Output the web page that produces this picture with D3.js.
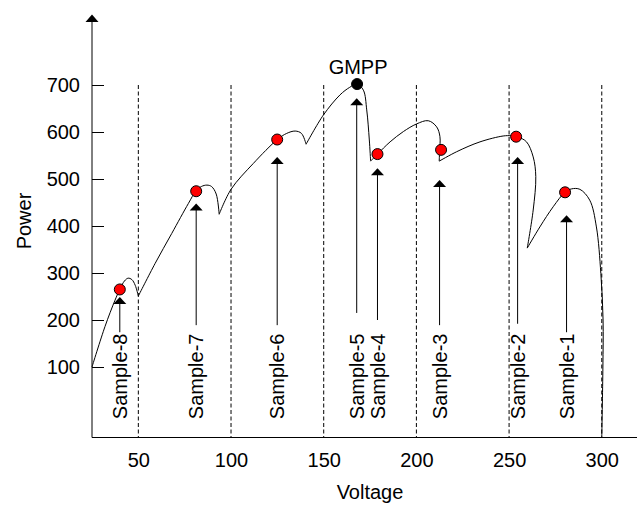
<!DOCTYPE html>
<html>
<head>
<meta charset="utf-8">
<script src="https://cdn.jsdelivr.net/npm/d3@7"></script>
<style>
  body { margin: 0; background: #fff; }
  text { font-family: Arial, "Liberation Sans", sans-serif; }
</style>
</head>
<body>
<div id="chart"></div>
<script>
// P-V curve, split at the cusps so each piece is smooth
const pvSegments = [
  [[25,100],[32,186],[37.4,242],[40,265],[42.5,283],[44.5,289],[46.5,286],[48.3,274],[50,251]],
  [[50,251],[59,320],[68,384],[77,448],[81,474],[84,484],[87,487],[89.5,484],[92,468],[93.6,425]],
  [[93.6,425],[100,478],[112,533],[125,584],[130,597],[134.6,602],[138,597],[140.5,574]],
  [[140.5,574],[149.8,636],[158.8,679],[164,695],[168,702],[171.4,689],[173.2,647],[174.6,583],[175.3,538]],
  [[175.3,538],[179,553],[185.8,579],[193,601],[200,617],[206.4,624],[210.9,611],[212.7,590],[212.5,560],[212.3,538]],
  [[212.3,538],[221.7,558],[234.3,579],[246.8,591.5],[251,592],[255,589],[259.4,579],[263,547],[264.4,505],[263,434],[259.8,353]],
  [[259.8,353],[266.6,398],[273.8,441],[280.2,472],[283.7,479],[288.2,478],[293.5,455],[297.1,398],[299.5,299],[300.7,200],[300.6,100],[300,-48]]
];

const sampleNames = ["Sample-1","Sample-2","Sample-3","Sample-4","Sample-5","Sample-6","Sample-7","Sample-8"];
const arrowV      = [281, 254.6, 212.5, 179, 167.8, 124.9, 81.2, 40];
const arrowTipP   = [423, 547, 498, 523, 672, 547, 448, 249];
const arrowBaseP  = [174, 192, 189, 200, 215, 189, 189, 174];
const dotV        = [280.2, 253.8, 213.3, 179, 168, 124.9, 81.2, 40];
const dotP        = [471.7, 590, 562, 553, 702, 584, 474, 265];
const gmppIndex   = 4;

const xTicks = [50, 100, 150, 200, 250, 300];
const yTicks = [100, 200, 300, 400, 500, 600, 700];
const dashedV = [50, 100, 150, 200, 250, 300];

const width = 637;
const height = 505;

const xScale = d3.scaleLinear().domain([25, 319]).range([92, 637]);
const yScale = d3.scaleLinear().domain([-50, 850]).range([437.5, 14.5]);

var svg = d3.select("#chart").append("svg")
  .attr("width", width)
  .attr("height", height);

// dashed partition lines
svg.append("g")
  .selectAll("line")
  .data(dashedV)
  .enter()
  .append("line")
    .attr("x1", d => xScale(d)).attr("x2", d => xScale(d))
    .attr("y1", yScale(700)).attr("y2", yScale(-50))
    .attr("stroke", "black")
    .attr("stroke-dasharray", "4,2.5");

// axes
svg.append("g")
  .attr("transform", `translate(0,${yScale(-50)})`)
  .call(d3.axisBottom(xScale).tickValues(xTicks).tickSize(0).tickPadding(15))
  .call(g => g.select(".domain").remove())
  .call(g => g.selectAll("text").attr("font-size", 20).attr("font-family", null).attr("fill", "black"));

svg.append("line")
  .attr("x1", xScale(25)).attr("x2", width)
  .attr("y1", yScale(-50)).attr("y2", yScale(-50))
  .attr("stroke", "black");

svg.append("g")
  .attr("transform", `translate(${xScale(25)},0)`)
  .call(d3.axisLeft(yScale).tickValues(yTicks).tickSizeInner(-12).tickSizeOuter(0).tickPadding(12))
  .call(g => g.select(".domain").remove())
  .call(g => g.selectAll("line").attr("stroke", "black"))
  .call(g => g.selectAll("text").attr("font-size", 20).attr("font-family", null).attr("fill", "black"));

svg.append("line")
  .attr("x1", xScale(25)).attr("x2", xScale(25))
  .attr("y1", yScale(-50)).attr("y2", yScale(835))
  .attr("stroke", "black");

svg.append("path")
  .attr("d", `M${xScale(25)},${yScale(850)} l6.5,7.5 l-13,0 Z`)
  .attr("fill", "black");

// axis titles
svg.append("text")
  .attr("x", 370).attr("y", 499)
  .attr("text-anchor", "middle")
  .attr("font-size", 20)
  .text("Voltage");

svg.append("text")
  .attr("transform", "translate(31,221) rotate(-90)")
  .attr("text-anchor", "middle")
  .attr("font-size", 20)
  .text("Power");

// the curve
var curveFunc = d3.line()
  .curve(d3.curveCatmullRom.alpha(0.5))
  .x(d => xScale(d[0]))
  .y(d => yScale(d[1]));

svg.append("g")
  .selectAll("path")
  .data(pvSegments)
  .enter()
  .append("path")
    .attr("d", d => curveFunc(d))
    .attr("stroke", "black")
    .attr("fill", "none");

// arrows + labels
var arrows = svg.append("g")
  .selectAll("g")
  .data(sampleNames)
  .enter()
  .append("g");

arrows.append("line")
  .attr("x1", (d, i) => xScale(arrowV[i])).attr("x2", (d, i) => xScale(arrowV[i]))
  .attr("y1", (d, i) => yScale(arrowBaseP[i]))
  .attr("y2", (d, i) => yScale(arrowTipP[i]) + 6)
  .attr("stroke", "black");

arrows.append("path")
  .attr("d", (d, i) => `M${xScale(arrowV[i])},${yScale(arrowTipP[i])} l6.5,7 l-13,0 Z`)
  .attr("fill", "black");

arrows.append("text")
  .attr("transform", (d, i) => `translate(${xScale(arrowV[i])},${yScale(-11)}) rotate(-90)`)
  .attr("dy", "0.36em")
  .attr("font-size", 20)
  .text(d => d);

// operating points
svg.append("g")
  .selectAll("circle")
  .data(dotV)
  .enter()
  .append("circle")
    .attr("cx", d => xScale(d))
    .attr("cy", (d, i) => yScale(dotP[i]))
    .attr("r", 5.5)
    .attr("fill", (d, i) => i === gmppIndex ? "black" : "red")
    .attr("stroke", "black");

svg.append("text")
  .attr("x", xScale(dotV[gmppIndex]) + 1)
  .attr("y", yScale(dotP[gmppIndex]) - 10)
  .attr("text-anchor", "middle")
  .attr("font-size", 20)
  .text("GMPP");
</script>
</body>
</html>
